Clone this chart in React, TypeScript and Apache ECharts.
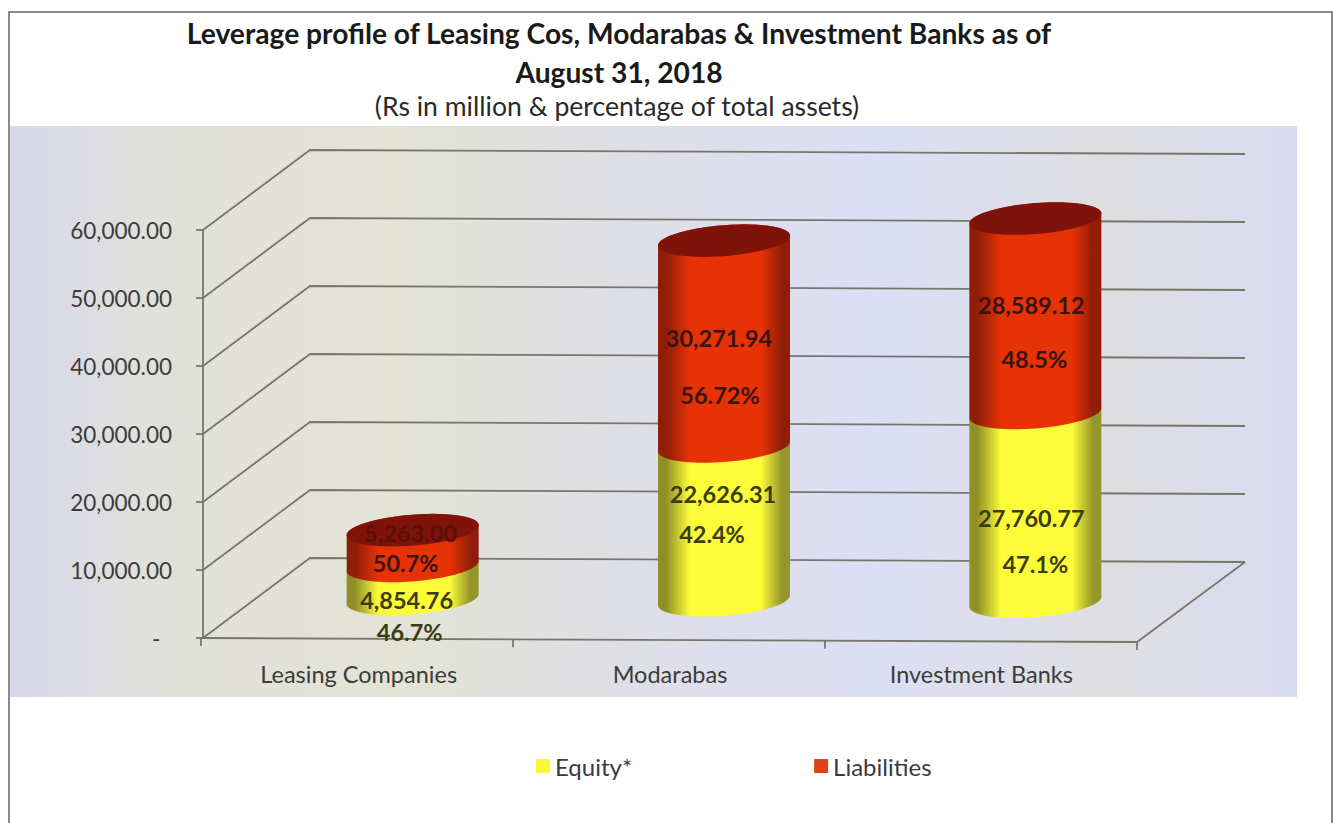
import React, { useEffect, useRef } from "react";
import * as echarts from "echarts";

const categories = ["Leasing Companies", "Modarabas", "Investment Banks"];
const equity = [4854.76, 22626.31, 27760.77];
const liabilities = [5263.0, 30271.94, 28589.12];
const equityValueLabels = ["4,854.76", "22,626.31", "27,760.77"];
const equityPctLabels = ["46.7%", "42.4%", "47.1%"];
const liabilityValueLabels = ["5,263.00", "30,271.94", "28,589.12"];
const liabilityPctLabels = ["50.7%", "56.72%", "48.5%"];
const yTicks = [0, 10000, 20000, 30000, 40000, 50000, 60000];

// 3D projection constants (pixels)
const DEPTH_X = 107;
const DEPTH_Y = 80;
const SKEW = 0.0045;
const CYL_DX = 54;
const CYL_DY = 40;
const RX = 66;
const RY = 15.5;
const TILT = 0.076;
const FONT = "Lato, Carlito, 'Open Sans', sans-serif";
const GRID_LINE = "#77776c";

// label offsets from each segment's middle: [dx, dy] for value and percent
const equityOffsets = [[[-6, 18], [-3, 50]], [[-1, -29], [-12, 11]], [[-4, 11], [0, 57]]];
const liabilityOffsets = [[[-2, -15], [-7, 15]], [[-5, -6], [-4, 51]], [[-4, -11], [-1, 43]]];

function ellipsePoint(cx: number, cy: number, t: number): number[] {
  const dx = RX * Math.cos(t);
  return [cx + dx, cy + RY * Math.sin(t) - dx * TILT];
}

function bodyPoints(cx: number, yBottom: number, yTop: number): number[][] {
  const pts: number[][] = [];
  const steps = 40;
  for (let i = 0; i <= steps; i++) pts.push(ellipsePoint(cx, yBottom, (Math.PI * i) / steps));
  for (let i = 0; i <= steps; i++) pts.push(ellipsePoint(cx, yTop, Math.PI + (Math.PI * i) / steps));
  return pts;
}

function capPoints(cx: number, cy: number): number[][] {
  const pts: number[][] = [];
  for (let i = 0; i < 60; i++) pts.push(ellipsePoint(cx, cy, (2 * Math.PI * i) / 60));
  return pts;
}

function sideGradient(edgeL: string, mid: string, edgeR: string) {
  return {
    type: "linear", x: 0, y: 0, x2: 1, y2: 0,
    colorStops: [
      { offset: 0, color: edgeL },
      { offset: 0.06, color: edgeL },
      { offset: 0.24, color: mid },
      { offset: 0.78, color: mid },
      { offset: 0.94, color: edgeR },
      { offset: 1, color: edgeR },
    ],
  };
}

const labelElement = (text: string, x: number, y: number, fill: string) => ({
  type: "text",
  z2: 20,
  style: { text, x, y, fill, font: `bold 23.5px ${FONT}`, textAlign: "center", textVerticalAlign: "middle" },
});

function cylinderCenter(api: any, cat: number, value: number): number[] {
  const p = api.coord([cat, value]);
  const x = p[0] + CYL_DX;
  return [x, p[1] + (x - 203) * SKEW - CYL_DY];
}

function renderEquity(_: any, api: any) {
  const cat = api.value(0);
  const v = api.value(1);
  const b = cylinderCenter(api, cat, 0);
  const t = cylinderCenter(api, cat, v);
  const mid = (b[1] + t[1]) / 2;
  const off = equityOffsets[cat];
  return {
    type: "group",
    children: [
      {
        type: "polygon",
        shape: { points: bodyPoints(b[0], b[1], t[1]) },
        style: { fill: sideGradient("#8f8f28", "#fcfc38", "#95952c") },
      },
      labelElement(equityValueLabels[cat], b[0] + off[0][0], mid + off[0][1], "#3c3c12"),
      labelElement(equityPctLabels[cat], b[0] + off[1][0], mid + off[1][1], "#3c3c12"),
    ],
  };
}

function renderLiabilities(_: any, api: any) {
  const cat = api.value(0);
  const from = equity[cat];
  const to = from + api.value(1);
  const b = cylinderCenter(api, cat, from);
  const t = cylinderCenter(api, cat, to);
  const mid = (b[1] + t[1]) / 2;
  const off = liabilityOffsets[cat];
  return {
    type: "group",
    children: [
      {
        type: "polygon",
        shape: { points: bodyPoints(b[0], b[1], t[1]) },
        style: { fill: sideGradient("#8f1d08", "#e63204", "#901d08") },
      },
      { type: "polygon", shape: { points: capPoints(t[0], t[1]) }, style: { fill: "#7f130a" } },
      labelElement(liabilityValueLabels[cat], b[0] + off[0][0], mid + off[0][1], cat === 0 ? "#581008" : "#3a1410"),
      labelElement(liabilityPctLabels[cat], b[0] + off[1][0], mid + off[1][1], "#3a1410"),
    ],
  };
}

function renderWalls(params: any, api: any) {
  const v = api.value(1);
  const sys = params.coordSys;
  const y = api.coord([0, v])[1];
  const x0 = sys.x;
  const x1 = sys.x + sys.width;
  const line = { stroke: GRID_LINE, lineWidth: 1.8, fill: "none" };
  const children: any[] = [
    {
      type: "polyline",
      shape: {
        points: [
          [x0, y],
          [x0 + DEPTH_X, y - DEPTH_Y],
          [x1 + DEPTH_X + 1, y - DEPTH_Y + 4],
        ],
      },
      style: line,
    },
  ];
  if (v === 0) {
    children.push({
      type: "polyline",
      shape: {
        points: [
          [x0 - 2, y],
          [x1, y + 4],
          [x1 + DEPTH_X + 1, y - DEPTH_Y + 4],
        ],
      },
      style: line,
    });
    const n = categories.length;
    for (let i = 0; i <= n; i++) {
      const tx = x0 - 2 + ((x1 - x0 + 2) * i) / n;
      const ty = y + (4 * i) / n;
      children.push({
        type: "line",
        shape: { x1: tx, y1: ty, x2: tx, y2: ty + 8 },
        style: { stroke: GRID_LINE, lineWidth: 1.8 },
      });
    }
  }
  return { type: "group", children };
}

export default function App() {
  const ref = useRef<HTMLDivElement>(null);
  useEffect(() => {
    const chart = echarts.init(ref.current!, null, { renderer: "svg" });
    chart.setOption({
      animation: false,
      backgroundColor: "#ffffff",
      textStyle: { fontFamily: FONT },
      title: [
        {
          text: "Leverage profile of Leasing Cos, Modarabas & Investment Banks as of\nAugust 31, 2018",
          left: 614,
          top: 8,
          textAlign: "center",
          textStyle: { fontFamily: FONT, fontSize: 28.2, fontWeight: "bold", color: "#1a1a1a", lineHeight: 39 },
        },
        {
          text: "(Rs in million & percentage of total assets)",
          left: 612,
          top: 87,
          textAlign: "center",
          textStyle: { fontFamily: FONT, fontSize: 26.6, fontWeight: "normal", color: "#2a2a2a" },
        },
      ],
      graphic: [
        {
          type: "rect",
          z: -10,
          shape: { x: 10, y: 126, width: 1287, height: 571 },
          style: {
            fill: {
              type: "linear", x: 0, y: 0, x2: 1, y2: 0,
              colorStops: [
                { offset: 0, color: "#d7d8ee" },
                { offset: 0.1, color: "#e0e0dc" },
                { offset: 0.3, color: "#e3e3d6" },
                { offset: 0.48, color: "#dedfe6" },
                { offset: 0.68, color: "#dcdef6" },
                { offset: 0.85, color: "#dfdfe2" },
                { offset: 1, color: "#d9dbf2" },
              ],
            },
          },
        },
        {
          type: "rect",
          z: -9,
          shape: { x: 9, y: 12, width: 1323, height: 830 },
          style: { fill: "none", stroke: "#66666a", lineWidth: 1.5 },
        },
      ],
      legend: {
        data: [
          { name: "Equity*", itemStyle: { color: "#fbf63a" } },
          { name: "Liabilities", itemStyle: { color: "#e2421a" } },
        ],
        left: 531,
        top: 749,
        icon: "rect",
        itemWidth: 14,
        itemHeight: 14,
        itemGap: 182,
        selectedMode: false,
        textStyle: { fontFamily: FONT, fontSize: 24, color: "#3a3a42" },
      },
      grid: { left: 203, top: 230, width: 934, height: 408, containLabel: false },
      xAxis: {
        type: "category",
        data: categories,
        axisLine: { show: false },
        axisTick: { show: false },
        axisLabel: { margin: 24, fontFamily: FONT, fontSize: 23.5, color: "#3c3c38" },
      },
      yAxis: {
        type: "value",
        min: 0,
        max: 60000,
        interval: 10000,
        splitLine: { show: false },
        axisLine: { show: true, lineStyle: { color: GRID_LINE, width: 1.8 } },
        axisTick: { show: true, length: 7, lineStyle: { color: GRID_LINE, width: 1.8 } },
        axisLabel: {
          margin: 31,
          fontFamily: FONT,
          fontSize: 22.5,
          color: "#3c3c38",
          formatter: (v: number) =>
            v === 0 ? "-  " : v.toLocaleString("en-US", { minimumFractionDigits: 2, maximumFractionDigits: 2 }),
        },
      },
      series: [
        {
          type: "custom",
          name: "walls",
          z: 1,
          silent: true,
          renderItem: renderWalls,
          encode: { x: 0, y: 1 },
          data: yTicks.map((v) => [0, v]),
        },
        {
          type: "custom",
          name: "Equity*",
          z: 3,
          silent: true,
          renderItem: renderEquity,
          itemStyle: { color: "#fbf63a" },
          encode: { x: 0, y: 1 },
          data: equity.map((v, i) => [i, v]),
        },
        {
          type: "custom",
          name: "Liabilities",
          z: 4,
          silent: true,
          renderItem: renderLiabilities,
          itemStyle: { color: "#e2421a" },
          encode: { x: 0, y: 1 },
          data: liabilities.map((v, i) => [i, v]),
        },
      ],
    });
    return () => chart.dispose();
  }, []);
  return <div ref={ref} style={{ position: "absolute", left: 0, top: 0, width: 1335, height: 823 }} />;
}
